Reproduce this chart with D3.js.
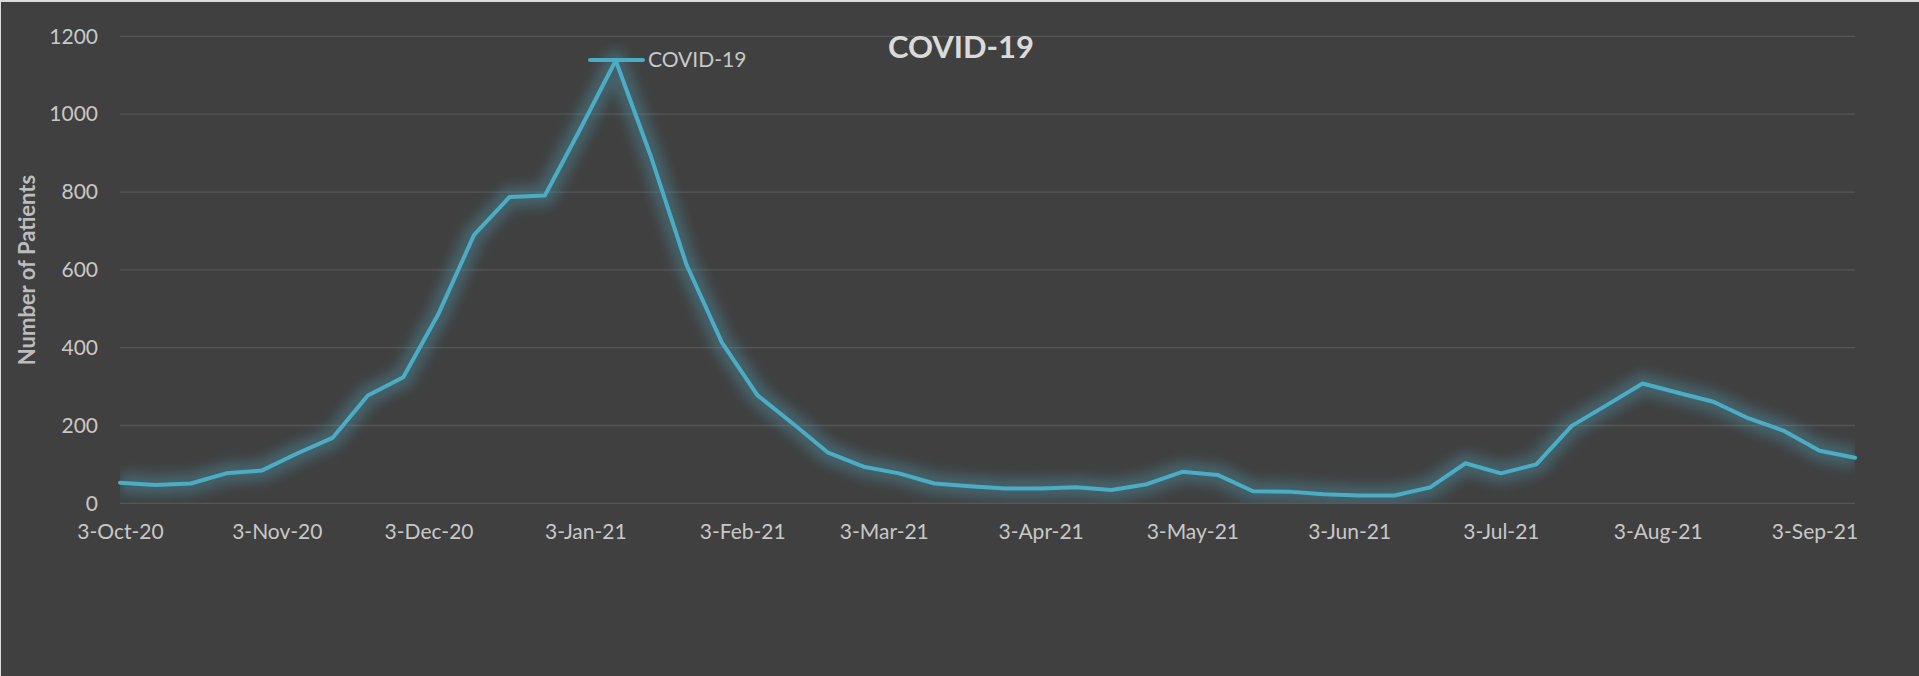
<!DOCTYPE html>
<html lang="en">
<head>
    <meta charset="UTF-8">
    <title>COVID-19 Patients</title>
    <script src="https://d3js.org/d3.v7.min.js"></script>
    <style>
        html, body {
            margin: 0;
            padding: 0;
            background: #dcdcdc;
            overflow: hidden;
        }
        svg text {
            font-family: Lato, "Open Sans", sans-serif;
        }
    </style>
</head>
<body>
    <div id="chart"></div>

    <script>
        // Weekly patient counts, first week starting 3-Oct-20
        const firstWeek = "2020-10-03";
        const patients = [
            53, 47, 51, 77, 84, 128, 168, 277, 324, 488,
            690, 787, 791, 962, 1138, 890, 613, 413, 278, 205,
            130, 94, 77, 51, 44, 38, 38, 41, 34, 49,
            81, 73, 31, 30, 23, 20, 20, 41, 103, 77,
            100, 199, 253, 308, 284, 261, 218, 186, 135, 117
        ];
        const xTickLabels = ["3-Oct-20", "3-Nov-20", "3-Dec-20", "3-Jan-21", "3-Feb-21", "3-Mar-21",
            "3-Apr-21", "3-May-21", "3-Jun-21", "3-Jul-21", "3-Aug-21", "3-Sep-21"];
        const yTicks = [0, 200, 400, 600, 800, 1000, 1200];
        const seriesName = "COVID-19";

        const width = 1919, height = 676;
        const plot = { left: 120, right: 1855, top: 36.4, bottom: 503.3 };
        const lineColor = "#4bacc6";

        const start = d3.timeParse("%Y-%m-%d")(firstWeek);
        const data = patients.map((v, i) => ({ date: d3.timeDay.offset(start, 7 * i), value: v }));
        const parseTick = d3.timeParse("%-d-%b-%y");

        const x = d3.scaleTime()
            .domain(d3.extent(data, d => d.date))
            .range([plot.left, plot.right]);
        const y = d3.scaleLinear()
            .domain([0, 1200])
            .range([plot.bottom, plot.top]);

        const svg = d3.select("#chart").append("svg")
            .attr("width", width)
            .attr("height", height);

        // chart area with thin light border on top/left
        svg.append("rect")
            .attr("x", 1).attr("y", 2)
            .attr("width", width - 1).attr("height", height - 2)
            .attr("fill", "#404040");

        const defs = svg.append("defs");
        defs.append("clipPath").attr("id", "plotClip")
            .append("rect")
            .attr("x", plot.left).attr("y", plot.top - 30)
            .attr("width", plot.right - plot.left)
            .attr("height", plot.bottom - plot.top + 30);
        defs.append("filter").attr("id", "glow")
            .attr("x", "-10%").attr("y", "-20%").attr("width", "120%").attr("height", "140%")
            .append("feGaussianBlur").attr("stdDeviation", 6);

        // gridlines
        svg.append("g")
            .selectAll("line")
            .data(yTicks)
            .join("line")
            .attr("x1", plot.left).attr("x2", plot.right)
            .attr("y1", d => y(d)).attr("y2", d => y(d))
            .attr("stroke", "#565656")
            .attr("stroke-width", 1.3);

        // y axis labels
        const yAxis = svg.append("g")
            .attr("transform", `translate(${plot.left - 22},0)`)
            .call(d3.axisLeft(y).tickValues(yTicks).tickFormat(d3.format("d")).tickSize(0).tickPadding(0));
        yAxis.select(".domain").remove();
        yAxis.selectAll("text")
            .attr("fill", "#c8c8c8")
            .style("font-size", "21px");

        // x axis labels
        const xAxis = svg.append("g")
            .attr("transform", `translate(0,${plot.bottom + 21})`)
            .call(d3.axisBottom(x)
                .tickValues(xTickLabels.map(parseTick))
                .tickFormat(d3.timeFormat("%-d-%b-%y"))
                .tickSize(0).tickPadding(0));
        xAxis.select(".domain").remove();
        xAxis.selectAll("text")
            .attr("fill", "#c8c8c8")
            .style("font-size", "21px");

        const line = d3.line()
            .x(d => x(d.date))
            .y(d => y(d.value));

        // glow behind the series
        svg.append("g")
            .attr("clip-path", "url(#plotClip)")
            .append("path")
            .datum(data)
            .attr("d", line)
            .attr("fill", "none")
            .attr("stroke", lineColor)
            .attr("stroke-opacity", 0.3)
            .attr("stroke-width", 22)
            .attr("stroke-linejoin", "round")
            .attr("filter", "url(#glow)");

        svg.append("path")
            .datum(data)
            .attr("d", line)
            .attr("fill", "none")
            .attr("stroke", lineColor)
            .attr("stroke-width", 4)
            .attr("stroke-linejoin", "round")
            .attr("stroke-linecap", "round");

        // legend
        const legend = svg.append("g").attr("transform", "translate(590,60)");
        legend.append("line")
            .attr("x1", 0).attr("x2", 53)
            .attr("stroke", lineColor)
            .attr("stroke-width", 4)
            .attr("stroke-linecap", "round");
        legend.append("text")
            .attr("x", 58).attr("dy", "0.35em")
            .attr("fill", "#c8c8c8")
            .style("font-size", "21px")
            .text(seriesName);

        // title
        svg.append("text")
            .attr("x", 961).attr("y", 58)
            .attr("text-anchor", "middle")
            .attr("fill", "#dadada")
            .style("font-size", "31px")
            .style("font-weight", "bold")
            .text(seriesName);

        // y axis title
        svg.append("text")
            .attr("transform", `translate(35,270) rotate(-90)`)
            .attr("text-anchor", "middle")
            .attr("fill", "#bcbcbc")
            .style("font-size", "22px")
            .style("font-weight", "bold")
            .text("Number of Patients");
    </script>
</body>
</html>
